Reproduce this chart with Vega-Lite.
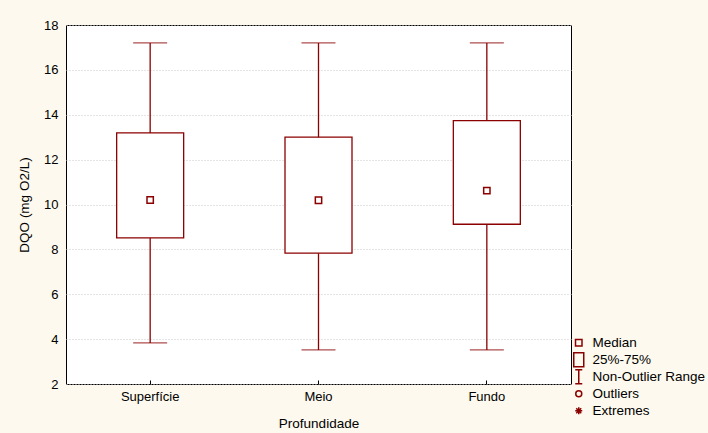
{
  "$schema": "https://vega.github.io/schema/vega-lite/v6.json",
  "width": 505,
  "height": 359,
  "autosize": "none",
  "padding": {"left": 66, "top": 25, "right": 137, "bottom": 49},
  "background": "#fdf9ee",
  "config": {
    "font": "Liberation Sans",
    "view": {"fill": "white", "stroke": "black", "strokeWidth": 1},
    "axis": {"labelFont": "Liberation Sans", "titleFont": "Liberation Sans", "labelFontSize": 13, "titleFontSize": 13.5, "titleFontWeight": "normal", "labelColor": "#000", "titleColor": "#000", "domainColor": "#000"}
  },
  "datasets": {
    "stats": [
      {"grupo": "Superfície", "lo": 3.83, "q1": 8.51, "med": 10.2, "q3": 13.19, "hi": 17.2},
      {"grupo": "Meio", "lo": 3.52, "q1": 7.83, "med": 10.19, "q3": 13.0, "hi": 17.2},
      {"grupo": "Fundo", "lo": 3.52, "q1": 9.12, "med": 10.62, "q3": 13.74, "hi": 17.2}
    ],
    "legend": [
      {"item": "Median"},
      {"item": "25%-75%"},
      {"item": "Non-Outlier Range"},
      {"item": "Outliers"},
      {"item": "Extremes"}
    ]
  },
  "encoding": {
    "x": {
      "field": "grupo", "type": "nominal", "sort": ["Superfície", "Meio", "Fundo"],
      "scale": {"paddingInner": 0, "paddingOuter": 0},
      "axis": {"title": "Profundidade", "labelAngle": 0, "tickSize": -4, "tickColor": "#000", "labelPadding": 10, "titlePadding": 13, "grid": false, "domain": false}
    }
  },
  "layer": [
    {
      "data": {"name": "stats"},
      "mark": {"type": "rule", "color": "#8b0000", "strokeWidth": 1.3},
      "encoding": {
        "y": {
          "field": "lo", "type": "quantitative",
          "scale": {"domain": [2, 18], "nice": false, "zero": false},
          "axis": {"title": "DQO (mg O2/L)", "values": [2, 4, 6, 8, 10, 12, 14, 16, 18], "tickSize": 0, "labelPadding": 8, "titlePadding": 12, "grid": true, "gridColor": "#c8c8c8", "gridDash": [1, 2], "domain": false}
        },
        "y2": {"field": "hi"}
      }
    },
    {
      "data": {"name": "stats"},
      "mark": {"type": "tick", "orient": "horizontal", "color": "#8b0000", "size": 34, "thickness": 1.3},
      "encoding": {"y": {"field": "lo", "type": "quantitative"}}
    },
    {
      "data": {"name": "stats"},
      "mark": {"type": "tick", "orient": "horizontal", "color": "#8b0000", "size": 34, "thickness": 1.3},
      "encoding": {"y": {"field": "hi", "type": "quantitative"}}
    },
    {
      "data": {"name": "stats"},
      "mark": {"type": "bar", "fill": "white", "stroke": "#8b0000", "strokeWidth": 1.3, "width": 67},
      "encoding": {"y": {"field": "q1", "type": "quantitative"}, "y2": {"field": "q3"}}
    },
    {
      "data": {"name": "stats"},
      "mark": {"type": "point", "shape": "square", "size": 40, "filled": false, "fill": "white", "stroke": "#8b0000", "strokeWidth": 1.5, "opacity": 1},
      "encoding": {"y": {"field": "med", "type": "quantitative"}}
    },
    {
      "data": {"name": "legend"},
      "transform": [{"filter": "datum.item == 'none'"}],
      "mark": {"type": "point", "filled": false, "color": "#8b0000"},
      "encoding": {
        "shape": {
          "field": "item", "type": "nominal",
          "scale": {
            "domain": ["Median", "25%-75%", "Non-Outlier Range", "Outliers", "Extremes"],
            "range": [
              "M-0.65,-0.65H0.65V0.65H-0.65Z",
              "M-1,-1.4H1V1.4H-1Z",
              "M-0.7,-1.4H0.7M0,-1.4V1.4M-0.7,1.4H0.7",
              "M-0.6,0A0.6,0.6 0 1,0 0.6,0A0.6,0.6 0 1,0 -0.6,0",
              "M-0.7,0H0.7M0,-0.7V0.7M-0.5,-0.5L0.5,0.5M-0.5,0.5L0.5,-0.5"
            ]
          },
          "legend": {
            "title": null, "orient": "none", "legendX": 506, "legendY": 311,
            "gridAlign": "all",
            "symbolSize": 100, "symbolStrokeColor": "#8b0000", "symbolFillColor": "transparent", "symbolStrokeWidth": 1.5, "symbolOpacity": 1,
            "labelFont": "Liberation Sans", "labelFontSize": 13.5, "labelColor": "#000", "labelOffset": 7, "rowPadding": -5
          }
        }
      }
    }
  ]
}
